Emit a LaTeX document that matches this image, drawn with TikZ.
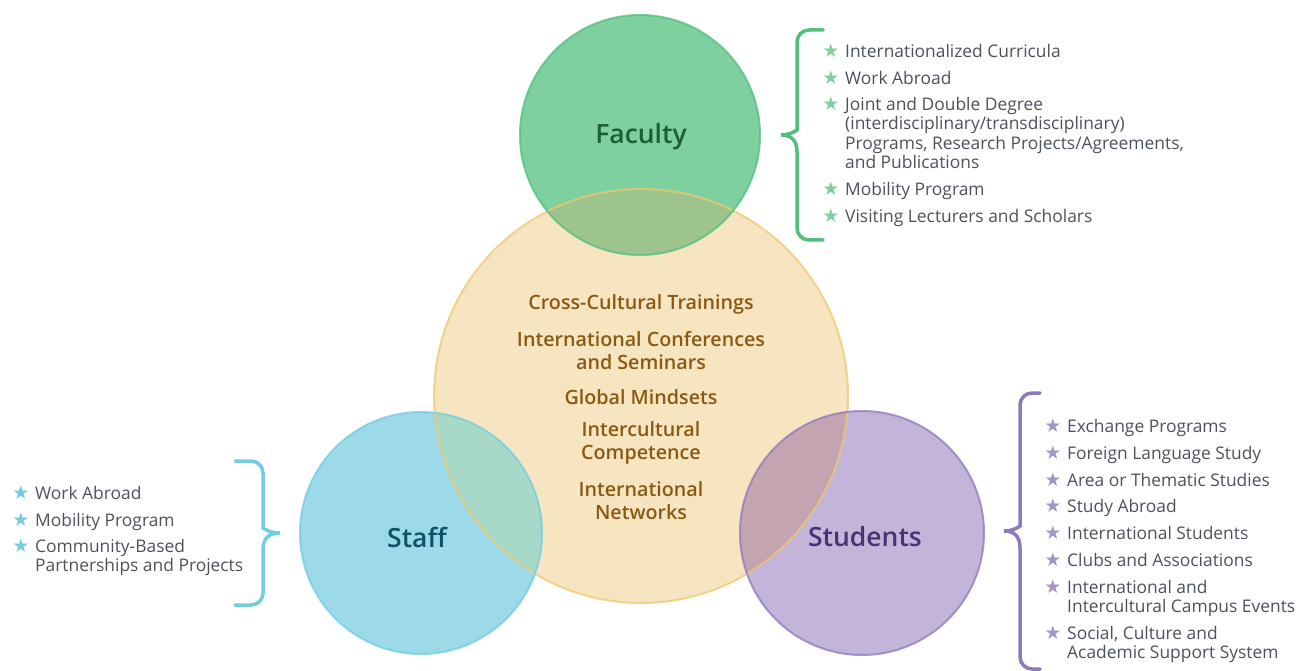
\documentclass[tikz,border=0pt]{standalone}
\usepackage{fontspec}
\setmainfont{Open Sans}
\newfontfamily\headfont{Open Sans Semibold}
\newfontfamily\symfont{DejaVu Sans}
\usetikzlibrary{positioning}

\definecolor{facfill}{HTML}{7ED19F}
\definecolor{facline}{HTML}{52BE7E}
\definecolor{facdark}{HTML}{1B5E38}
\definecolor{corefill}{HTML}{F6E5C0}
\definecolor{coreline}{HTML}{EFC870}
\definecolor{coredark}{HTML}{8A5A12}
\definecolor{stafill}{HTML}{9CDAE9}
\definecolor{staline}{HTML}{74CCE2}
\definecolor{stadark}{HTML}{0F5168}
\definecolor{stufill}{HTML}{C3B4DA}
\definecolor{stuline}{HTML}{8F79BD}
\definecolor{studark}{HTML}{4B3275}
\definecolor{facmix}{HTML}{9DC48C}
\definecolor{stamix}{HTML}{A8D8C8}
\definecolor{stumix}{HTML}{C4A4B0}
\definecolor{itemgray}{HTML}{4D515C}

\newcommand{\lines}[1]{\begin{tabular}[t]{@{}l@{}}#1\end{tabular}}

\begin{document}
\begin{tikzpicture}[x=1pt,y=-1pt,
    ring/.style={line width=2pt, draw opacity=.75},
    label/.style={font=\headfont\fontsize{26.5}{30}\selectfont},
    theme/.style={align=center, text=coredark, font=\headfont\fontsize{19.7}{23}\selectfont},
    item/.style={anchor=base west, inner sep=0pt, text=itemgray,
        font=\fontsize{17.4}{19.3}\selectfont},
    starsym/.style={anchor=base, inner sep=0pt, font=\symfont\fontsize{19}{19}\selectfont},
    curly/.style={line width=3.5pt, line cap=round}]
    \useasboundingbox (0,0) rectangle (1296,671);

    % circles
    \fill[corefill] (641,396) circle (207);
    \fill[facfill] (640,135) circle (120);
    \fill[stafill] (421,533) circle (121);
    \fill[stufill] (862,533) circle (122);
    \begin{scope}
        \clip (641,396) circle (207);
        \fill[facmix] (640,135) circle (120);
        \fill[stamix] (421,533) circle (121);
        \fill[stumix] (862,533) circle (122);
    \end{scope}
    \draw[ring, coreline] (641,396) circle (207);
    \draw[ring, facline] (640,135) circle (120);
    \draw[ring, staline] (421,533) circle (121);
    \draw[ring, stuline] (862,533) circle (122);

    \node[label, text=facdark] (faculty) at (641,137) {Faculty};
    \node[label, text=stadark] (staff) at (417,537) {Staff};
    \node[label, text=studark] (students) at (865,537) {Students};

    % core themes
    \node[theme] (cct) at (641,304) {Cross-Cultural Trainings};
    \node[theme] (icf) at (641,351) {International Conferences\\and Seminars};
    \node[theme] (gms) at (641,397) {Global Mindsets};
    \node[theme] (icc) at (641,443) {Intercultural\\Competence};
    \node[theme] (inw) at (641,501) {International\\Networks};

    % braces
    \draw[curly, facline] (823,30) [rounded corners=12pt] -- (797,30) -- (797,118) [sharp corners]
        .. controls (797,130) and (791,135) .. (781,135)
        .. controls (791,135) and (797,140) .. (797,152) [rounded corners=12pt] -- (797,240) -- (823,240);
    \draw[curly, staline] (235,461) [rounded corners=12pt] -- (263,461) -- (263,516) [sharp corners]
        .. controls (263,528) and (269,533) .. (280,533)
        .. controls (269,533) and (263,538) .. (263,550) [rounded corners=12pt] -- (263,605) -- (235,605);
    \draw[curly, stuline] (1040,393) [rounded corners=12pt] -- (1020,393) -- (1020,514) [sharp corners]
        .. controls (1020,526) and (1014,531) .. (1004,531)
        .. controls (1014,531) and (1020,536) .. (1020,548) [rounded corners=12pt] -- (1020,669) -- (1040,669);

    % lists
    \foreach \y/\txt [count=\i] in {57.5/Internationalized Curricula, 84.5/Work Abroad,
        110.5/{Joint and Double Degree\\(interdisciplinary/transdisciplinary)\\Programs, Research Projects/Agreements,\\and Publications},
        195.5/Mobility Program, 222.5/Visiting Lecturers and Scholars}
    {
        \node[item] (fac\i) at (845,\y) {\lines{\txt}};
        \node[starsym, text=facfill] at (831,\y) {★};
    }
    \foreach \y/\txt [count=\i] in {499.5/Work Abroad, 526.5/Mobility Program,
        552.5/{Community-Based\\Partnerships and Projects}}
    {
        \node[item] (sta\i) at (35,\y) {\lines{\txt}};
        \node[starsym, text=staline] at (21,\y) {★};
    }
    \foreach \y/\txt [count=\i] in {432.5/Exchange Programs, 459.5/Foreign Language Study,
        486.5/Area or Thematic Studies, 512.5/Study Abroad, 539.5/International Students,
        566.5/Clubs and Associations, 593.5/{International and\\Intercultural Campus Events},
        639.5/{Social, Culture and\\Academic Support System}}
    {
        \node[item] (stu\i) at (1067,\y) {\lines{\txt}};
        \node[starsym, text=stuline!80] at (1053,\y) {★};
    }
\end{tikzpicture}
\end{document}
